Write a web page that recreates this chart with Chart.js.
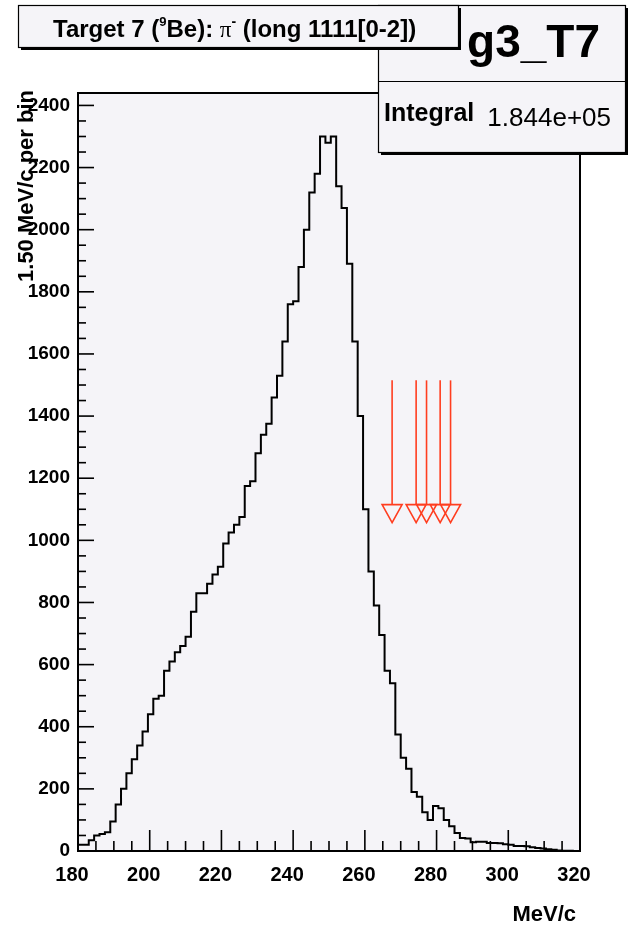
<!DOCTYPE html>
<html><head><meta charset="utf-8">
<style>html,body{margin:0;padding:0;background:#fff;}canvas{display:block}</style>
<script src="https://cdn.jsdelivr.net/npm/chart.js@4.4.1/dist/chart.umd.min.js"></script>
</head><body>
<canvas id="c" width="630" height="932"></canvas>
<script>
// ---- data ----
const binLow = 180;
const binWidth = 1.5;
const counts = [
  5, 20, 20, 35, 50, 55, 60, 95, 150, 200,
  250, 295, 340, 385, 440, 490, 500, 580, 610, 640,
  660, 690, 770, 830, 830, 860, 890, 915, 990, 1025,
  1050, 1075, 1175, 1190, 1280, 1340, 1375, 1460, 1530, 1640,
  1760, 1770, 1880, 2000, 2120, 2180, 2300, 2280, 2300, 2140,
  2070, 1890, 1640, 1400, 1100, 900, 790, 695, 580, 540,
  375, 300, 265, 190, 175, 125, 100, 145, 138, 100,
  80, 58, 42, 40, 28, 30, 30, 26, 26, 25,
  22, 20, 16, 16, 15, 12, 10, 8, 6, 4,
  2, 1, 1, 0
];
const xTickValues = [180, 200, 220, 240, 260, 280, 300, 320];
const yTickValues = [0, 200, 400, 600, 800, 1000, 1200, 1400, 1600, 1800, 2000, 2200, 2400];
const xMinorStep = 5;
const yMinorStep = 50;
const xMin = 180, xMax = 320, yMin = 0, yMax = 2440;
const arrowX = [267.6, 274.3, 277.2, 281.0, 283.9];
const arrowTop = 1515;
const arrowBase = 1115;
const histName = 'g3_T7';
const statLabel = 'Integral';
const statValue = '1.844e+05';
const xTitle = 'MeV/c';
const yTitle = '1.50 MeV/c per bin';

// ---- build points ----
const points = [{x: binLow, y: 0}];
counts.forEach((v, i) => points.push({x: binLow + i * binWidth, y: v}));
points.push({x: binLow + counts.length * binWidth, y: counts[counts.length - 1]});

const FONT = "'Liberation Sans', Arial, Helvetica, sans-serif";
const PLOTBG = '#f5f4f8';

function line(ctx, x1, y1, x2, y2) { ctx.beginPath(); ctx.moveTo(x1, y1); ctx.lineTo(x2, y2); ctx.stroke(); }

function shadowBox(ctx, x, y, w, h) {
  ctx.fillStyle = '#000';
  ctx.fillRect(x + 3, y + 3, w, h);
  ctx.fillStyle = PLOTBG;
  ctx.fillRect(x, y, w, h);
  ctx.strokeStyle = '#000';
  ctx.lineWidth = 1.2;
  ctx.strokeRect(x + 0.5, y + 0.5, w, h);
}

const rootPlugin = {
  id: 'rootStyle',
  beforeDraw(chart) {
    const ctx = chart.ctx, ca = chart.chartArea;
    ctx.save();
    ctx.fillStyle = '#fff';
    ctx.fillRect(0, 0, chart.width, chart.height);
    ctx.fillStyle = PLOTBG;
    ctx.fillRect(ca.left, ca.top, ca.right - ca.left, ca.bottom - ca.top);
    ctx.restore();
  },
  afterDatasetsDraw(chart) {
    const ctx = chart.ctx, ca = chart.chartArea;
    const xs = chart.scales.x, ys = chart.scales.y;
    ctx.save();
    ctx.strokeStyle = '#000';
    ctx.lineWidth = 1.6;
    for (let v = xMin; v <= xMax + 1e-9; v += xMinorStep) {
      const px = xs.getPixelForValue(v);
      const major = xTickValues.includes(v);
      line(ctx, px, ca.bottom, px, ca.bottom - (major ? 21 : 10));
    }
    for (let v = yMin; v <= yMax; v += yMinorStep) {
      const py = ys.getPixelForValue(v);
      const major = yTickValues.includes(v);
      line(ctx, ca.left, py, ca.left + (major ? 16 : 8), py);
    }
    ctx.lineWidth = 2;
    ctx.strokeRect(ca.left, ca.top, ca.right - ca.left, ca.bottom - ca.top);
    // arrows
    ctx.strokeStyle = '#ff3d1f';
    ctx.lineWidth = 1.6;
    const yT = ys.getPixelForValue(arrowTop), yB = ys.getPixelForValue(arrowBase);
    arrowX.forEach(v => {
      const px = xs.getPixelForValue(v);
      line(ctx, px, yT, px, yB);
      ctx.beginPath();
      ctx.moveTo(px - 10, yB);
      ctx.lineTo(px + 10, yB);
      ctx.lineTo(px, yB + 18);
      ctx.closePath();
      ctx.stroke();
    });
    ctx.restore();
  },
  afterDraw(chart) {
    const ctx = chart.ctx;
    ctx.save();
    ctx.fillStyle = '#000';
    // y title
    ctx.save();
    ctx.translate(33, 90);
    ctx.rotate(-Math.PI / 2);
    ctx.font = 'bold 22px ' + FONT;
    ctx.textAlign = 'right';
    ctx.fillText(yTitle, 0, 0);
    ctx.restore();
    // x title
    ctx.font = 'bold 22px ' + FONT;
    ctx.textAlign = 'right';
    ctx.fillText(xTitle, 576, 921);

    // stats box
    shadowBox(ctx, 378, 5, 247, 147);
    ctx.strokeStyle = '#000';
    ctx.lineWidth = 1.2;
    line(ctx, 378, 81.5, 625, 81.5);
    ctx.fillStyle = '#000';
    ctx.font = 'bold 46px ' + FONT;
    ctx.textAlign = 'right';
    ctx.fillText(histName, 600, 57);
    ctx.font = 'bold 25px ' + FONT;
    ctx.textAlign = 'left';
    ctx.fillText(statLabel, 384, 121);
    ctx.font = '26px ' + FONT;
    ctx.textAlign = 'right';
    ctx.fillText(statValue, 611, 126);

    // title box
    shadowBox(ctx, 18, 5, 440, 42);
    ctx.fillStyle = '#000';
    ctx.textAlign = 'left';
    let x = 53;
    const base = 37;
    const seg = (t, font, dy) => { ctx.font = font; ctx.fillText(t, x, base + (dy || 0)); x += ctx.measureText(t).width; };
    seg('Target 7 (', 'bold 24px ' + FONT);
    seg('9', 'bold 13px ' + FONT, -11);
    seg('Be): ', 'bold 24px ' + FONT);
    seg('\u03c0', '23px ' + "'Liberation Serif', serif");
    seg('-', 'bold 14px ' + FONT, -11);
    seg(' (long 1111[0-2])', 'bold 24px ' + FONT);
    ctx.restore();
  }
};

new Chart(document.getElementById('c'), {
  type: 'line',
  data: {
    datasets: [{
      data: points,
      stepped: 'after',
      borderColor: '#000',
      borderWidth: 2,
      pointRadius: 0,
      fill: false,
      tension: 0
    }]
  },
  options: {
    responsive: false,
    animation: false,
    devicePixelRatio: 1,
    layout: { padding: { top: 93, right: 50, left: 0, bottom: 0 } },
    plugins: { legend: { display: false }, tooltip: { enabled: false }, title: { display: false } },
    scales: {
      x: {
        type: 'linear', min: xMin, max: xMax,
        afterBuildTicks: s => { s.ticks = xTickValues.map(v => ({value: v})); },
        afterFit: s => { s.height = 81; },
        grid: { display: false, drawTicks: false },
        border: { display: false },
        ticks: { color: '#000', font: { family: FONT, size: 20, weight: 'bold' }, padding: 12, labelOffset: -6, maxRotation: 0, autoSkip: false, callback: v => String(v) }
      },
      y: {
        type: 'linear', min: yMin, max: yMax,
        afterBuildTicks: s => { s.ticks = yTickValues.map(v => ({value: v})); },
        afterFit: s => { s.width = 78; },
        grid: { display: false, drawTicks: false },
        border: { display: false },
        ticks: { color: '#000', font: { family: FONT, size: 19, weight: 'bold' }, padding: 8, autoSkip: false, callback: v => String(v) }
      }
    }
  },
  plugins: [rootPlugin]
});
</script>
</body></html>
